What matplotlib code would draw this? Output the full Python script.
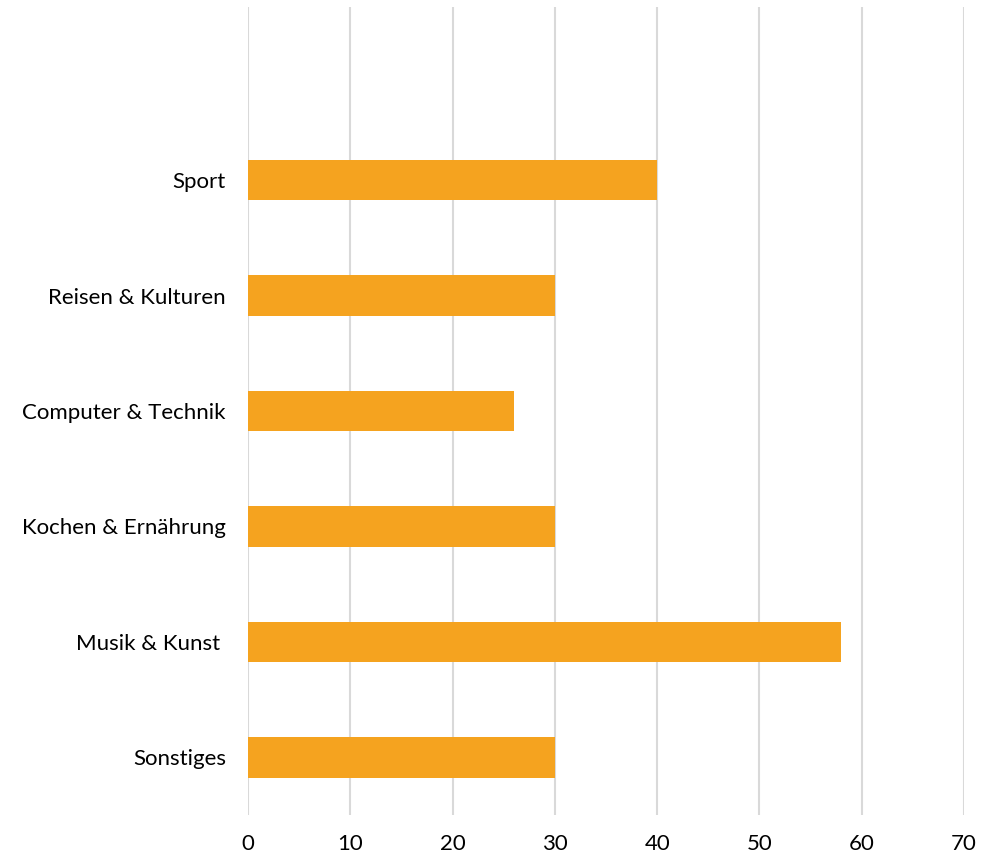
import matplotlib.pyplot as plt

categories = ['Sport', 'Reisen & Kulturen', 'Computer & Technik',
              'Kochen & Ernährung', 'Musik & Kunst ', 'Sonstiges']
values = [40, 30, 26, 30, 58, 30]
xticks = [0, 10, 20, 30, 40, 50, 60, 70]

plt.rcParams['font.family'] = ['Lato', 'DejaVu Sans']

fig = plt.figure(figsize=(9.89, 8.58), dpi=100)
ax = fig.add_axes([0.2508, 0.0501, 0.7239, 0.9417])

# bottom category first, one empty slot left above "Sport"
pos = list(range(len(categories)))[::-1]
ax.barh(pos, values, height=0.35, color='#F5A31F', zorder=3)

ax.set_yticks(pos)
ax.set_yticklabels(categories, fontsize=16)
ax.set_ylim(-0.5, len(categories) + 0.5)
ax.set_xlim(0, 70)
ax.set_xticks(xticks)
ax.set_xticklabels([str(t) for t in xticks], fontsize=16)

ax.xaxis.grid(True, color='#D9D9D9', linewidth=1.5, zorder=0)
ax.tick_params(axis='both', length=0)
ax.tick_params(axis='x', pad=14)
ax.tick_params(axis='y', pad=16)
for s in ax.spines.values():
    s.set_visible(False)

fig.savefig('out.png', dpi=100)
